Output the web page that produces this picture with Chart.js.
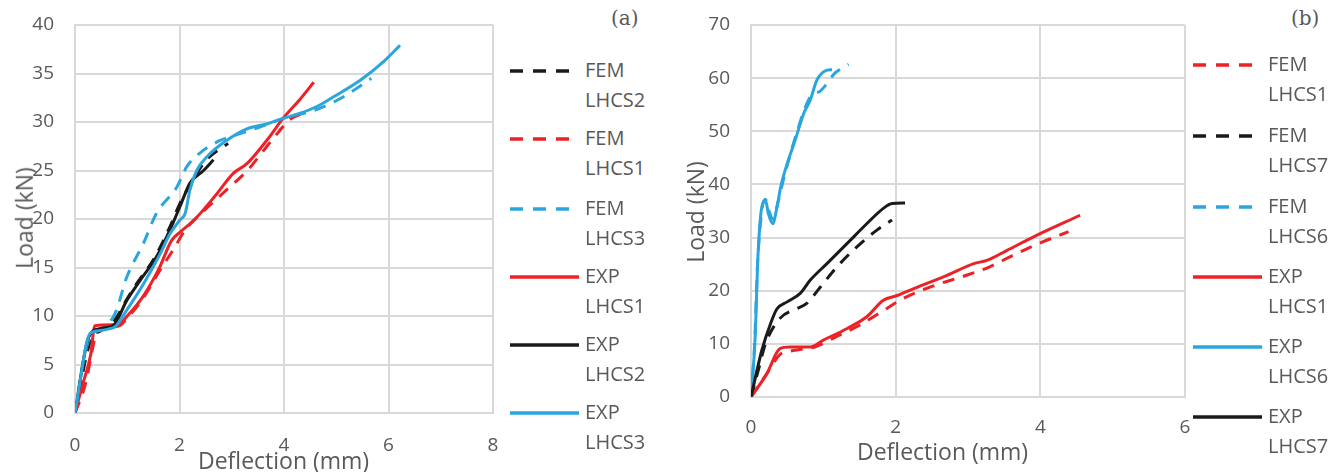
<!DOCTYPE html>
<html>
<head>
<meta charset="utf-8">
<script src="https://cdn.jsdelivr.net/npm/chart.js@4"></script>
<style>
    body { margin: 0; background: #fff; }
    #wrap { position: relative; width: 1342px; height: 472px; overflow: hidden; font-family: "Open Sans", "Noto Sans", sans-serif; color: #595959; }
    canvas { position: absolute; top: 0; }
    .axt { position: absolute; font-size: 23px; line-height: 28px; white-space: nowrap; }
    .tag { position: absolute; font-family: "DejaVu Serif", "Liberation Serif", serif; font-size: 20px; color: #595959; }
    .leg { position: absolute; font-size: 20px; line-height: 30px; }
    .leg svg { position: absolute; left: 0; }
    .leg span { position: absolute; white-space: nowrap; }
</style>
</head>
<body>
<div id="wrap">
    <canvas id="chartA" width="500" height="472" style="left:0"></canvas>
    <canvas id="chartB" width="520" height="472" style="left:680px"></canvas>
    <div class="axt" style="left:198px; top:446px">Deflection (mm)</div>
    <div class="axt" style="left:857px; top:437px">Deflection (mm)</div>
    <div class="axt" style="left:-27px; top:204px; transform: rotate(-90deg)">Load (kN)</div>
    <div class="axt" style="left:644px; top:198px; transform: rotate(-90deg)">Load (kN)</div>
    <div class="tag" style="left:611px; top:6px">(a)</div>
    <div class="tag" style="left:1291px; top:6px">(b)</div>
    <div id="legA" class="leg" style="left:510px; top:0"></div>
    <div id="legB" class="leg" style="left:1193px; top:0"></div>
</div>
<script>
const RED = '#ec2227';
const BLACK = '#1a1a1a';
const BLUE = '#2aa6dd';

// panel (a)
const aFemS2X = [0, 0.3, 0.5, 0.75, 1.0, 1.2, 1.5, 1.8, 2.0, 2.2, 2.5, 2.93];
const aFemS2Y = [0, 7.5, 8.5, 9.5, 11.8, 13.5, 15.8, 19, 21.5, 23.5, 26, 27.8];
const aFemS1X = [0, 0.2, 0.35, 0.42, 0.6, 0.85, 1.0, 1.3, 1.6, 1.9, 2.1, 2.5, 2.9, 3.3, 3.6, 3.9, 4.1, 4.37];
const aFemS1Y = [0, 3, 7, 8.5, 8.8, 9, 9.8, 11.8, 14.5, 17, 18.8, 21, 23, 25, 27, 29, 30.2, 30.9];
const aFemS3X = [0, 0.15, 0.3, 0.5, 0.77, 0.99, 1.31, 1.56, 1.95, 2.14, 2.39, 2.78, 3.16, 3.6, 4.0, 4.63, 5.14, 5.67];
const aFemS3Y = [0, 5, 8, 8.6, 10.3, 14, 17.5, 20.6, 23.3, 25.4, 26.8, 28.1, 28.8, 29.6, 30.4, 31.3, 32.6, 34.5];
const aExpS1X = [0, 0.15, 0.3, 0.38, 0.82, 1.0, 1.3, 1.6, 1.85, 2.0, 2.3, 2.7, 3.03, 3.29, 3.67, 4.0, 4.3, 4.57];
const aExpS1Y = [0, 3, 6, 9.0, 9.1, 10, 12, 14.8, 17.8, 18.6, 20, 22.5, 24.7, 25.7, 28.1, 30.5, 32.3, 34.1];
const aExpS2X = [0, 0.26, 0.48, 0.73, 0.99, 1.25, 1.56, 1.82, 2.01, 2.2, 2.46, 2.65];
const aExpS2Y = [0, 7.8, 8.7, 9.0, 11.6, 13.7, 16.1, 18.9, 21.3, 23.7, 25, 26.1];
const aExpS3X = [0, 0.29, 0.48, 0.67, 0.77, 0.99, 1.31, 1.63, 1.82, 2.01, 2.11, 2.2, 2.33, 2.52, 2.9, 3.29, 3.67, 4.0, 4.31, 4.63, 4.95, 5.46, 5.9, 6.22];
const aExpS3Y = [0, 8.2, 8.5, 8.7, 8.9, 10.6, 13.3, 16.4, 18.5, 19.9, 20.6, 23, 25, 26.4, 28.1, 29.3, 29.8, 30.4, 30.9, 31.6, 32.6, 34.3, 36.2, 37.9];

// panel (b)
const bFemS1X = [0, 0.2, 0.4, 0.5, 0.7, 0.9, 1.2, 1.5, 1.8, 2.1, 2.5, 3.0, 3.3, 3.6, 4.0, 4.39];
const bFemS1Y = [0, 4, 8, 8.5, 9, 9.5, 11.5, 13.5, 16, 18.5, 20.8, 23, 24.5, 26.5, 29, 31.1];
const bFemS7X = [0, 0.1, 0.2, 0.4, 0.63, 0.77, 0.96, 1.19, 1.46, 1.74, 1.95];
const bFemS7Y = [0, 5, 10, 14.8, 16.6, 17.6, 20.7, 24.5, 28.2, 31.4, 33.3];
const bFemS6X = [0, 0.05, 0.09, 0.12, 0.16, 0.2, 0.25, 0.3, 0.38, 0.45, 0.55, 0.65, 0.75, 0.85, 0.95, 1.05, 1.15, 1.25, 1.35];
const bFemS6Y = [0, 10, 25, 31, 36, 37.2, 35, 33.5, 37, 41, 46, 50.5, 54.5, 57, 57.5, 59, 60.8, 61.8, 62.6];
const bExpS1X = [0, 0.22, 0.4, 0.54, 0.82, 1.0, 1.33, 1.6, 1.83, 2.02, 2.25, 2.71, 3.08, 3.26, 3.54, 3.9, 4.55];
const bExpS1Y = [0, 4.4, 9.1, 9.4, 9.4, 10.7, 12.9, 15.1, 18.2, 19.1, 20.4, 22.9, 25.1, 25.7, 27.6, 30.1, 34.2];
const bExpS6X = [0, 0.06, 0.09, 0.12, 0.15, 0.2, 0.24, 0.3, 0.36, 0.41, 0.5, 0.61, 0.73, 0.82, 0.91, 1.05, 1.12];
const bExpS6Y = [0, 11.9, 24.5, 32, 35.8, 37, 34.5, 32.6, 35.8, 39.5, 43.9, 48.3, 53.4, 55.9, 59.6, 61.5, 61.6];
const bExpS7X = [0, 0.15, 0.27, 0.36, 0.5, 0.68, 0.82, 1.05, 1.33, 1.6, 1.83, 1.95, 2.13];
const bExpS7Y = [0, 8.8, 13.8, 16.6, 17.9, 19.5, 22, 25.1, 28.9, 32.6, 35.5, 36.4, 36.5];

const seriesA = [
    { name: ['FEM', 'LHCS2'], x: aFemS2X, y: aFemS2Y, color: BLACK, dash: true },
    { name: ['FEM', 'LHCS1'], x: aFemS1X, y: aFemS1Y, color: RED, dash: true },
    { name: ['FEM', 'LHCS3'], x: aFemS3X, y: aFemS3Y, color: BLUE, dash: true },
    { name: ['EXP', 'LHCS1'], x: aExpS1X, y: aExpS1Y, color: RED, dash: false },
    { name: ['EXP', 'LHCS2'], x: aExpS2X, y: aExpS2Y, color: BLACK, dash: false },
    { name: ['EXP', 'LHCS3'], x: aExpS3X, y: aExpS3Y, color: BLUE, dash: false }
];
const seriesB = [
    { name: ['FEM', 'LHCS1'], x: bFemS1X, y: bFemS1Y, color: RED, dash: true },
    { name: ['FEM', 'LHCS7'], x: bFemS7X, y: bFemS7Y, color: BLACK, dash: true },
    { name: ['FEM', 'LHCS6'], x: bFemS6X, y: bFemS6Y, color: BLUE, dash: true },
    { name: ['EXP', 'LHCS1'], x: bExpS1X, y: bExpS1Y, color: RED, dash: false },
    { name: ['EXP', 'LHCS6'], x: bExpS6X, y: bExpS6Y, color: BLUE, dash: false },
    { name: ['EXP', 'LHCS7'], x: bExpS7X, y: bExpS7Y, color: BLACK, dash: false }
];

function makeChart(id, series, xMax, yMax, yStep, yW, xH, padR, tickPadX) {
    const n = series.length;
    const datasets = series.map((s, i) => ({
        label: s.name.join(' '),
        data: s.x.map((v, j) => ({ x: v, y: s.y[j] })),
        borderColor: s.color,
        borderWidth: 3,
        borderDash: s.dash ? [12, 9] : [],
        pointRadius: 0,
        showLine: true,
        fill: false,
        cubicInterpolationMode: 'monotone',
        order: n - 1 - i
    }));
    const gridStyle = { color: '#d9d9d9', lineWidth: 2, drawTicks: false };
    const tickFont = { family: '"Open Sans", "Noto Sans", sans-serif', size: 19 };
    return new Chart(document.getElementById(id), {
        type: 'scatter',
        data: { datasets },
        options: {
            responsive: false,
            animation: false,
            devicePixelRatio: 1,
            layout: { padding: { top: 25, right: padR, bottom: 0, left: 0 } },
            plugins: { legend: { display: false }, tooltip: { enabled: false } },
            scales: {
                x: {
                    type: 'linear', min: 0, max: xMax,
                    grid: gridStyle,
                    border: { color: '#d9d9d9', width: 2 },
                    ticks: { stepSize: 2, color: '#595959', font: tickFont, padding: tickPadX },
                    afterFit: s => { s.height = xH; s.paddingLeft = 0; s.paddingRight = 0; }
                },
                y: {
                    type: 'linear', min: 0, max: yMax,
                    grid: gridStyle,
                    border: { color: '#d9d9d9', width: 2 },
                    ticks: { stepSize: yStep, color: '#595959', font: tickFont, padding: 21 },
                    afterFit: s => { s.width = yW; s.paddingTop = 0; s.paddingBottom = 0; }
                }
            }
        }
    });
}

function makeLegend(id, series, rows) {
    const box = document.getElementById(id);
    series.forEach((s, i) => {
        const y = rows[i];
        const dash = s.dash ? 'stroke-dasharray="13 10"' : '';
        box.innerHTML += `
            <svg width="70" height="6" style="top:${y - 3}px"><line x1="0" y1="3" x2="69" y2="3" stroke="${s.color}" stroke-width="3.5" ${dash}/></svg>
            <span style="left:75px; top:${y - 16}px">${s.name[0]}<br>${s.name[1]}</span>`;
    });
}

makeChart('chartA', seriesA, 8, 40, 5, 75, 59, 7, 21);
makeChart('chartB', seriesB, 6, 70, 10, 71, 75, 15, 19);
makeLegend('legA', seriesA, [71, 139, 209, 277, 345, 413]);
makeLegend('legB', seriesB, [65, 136, 207, 277, 347, 417]);
</script>
</body>
</html>
